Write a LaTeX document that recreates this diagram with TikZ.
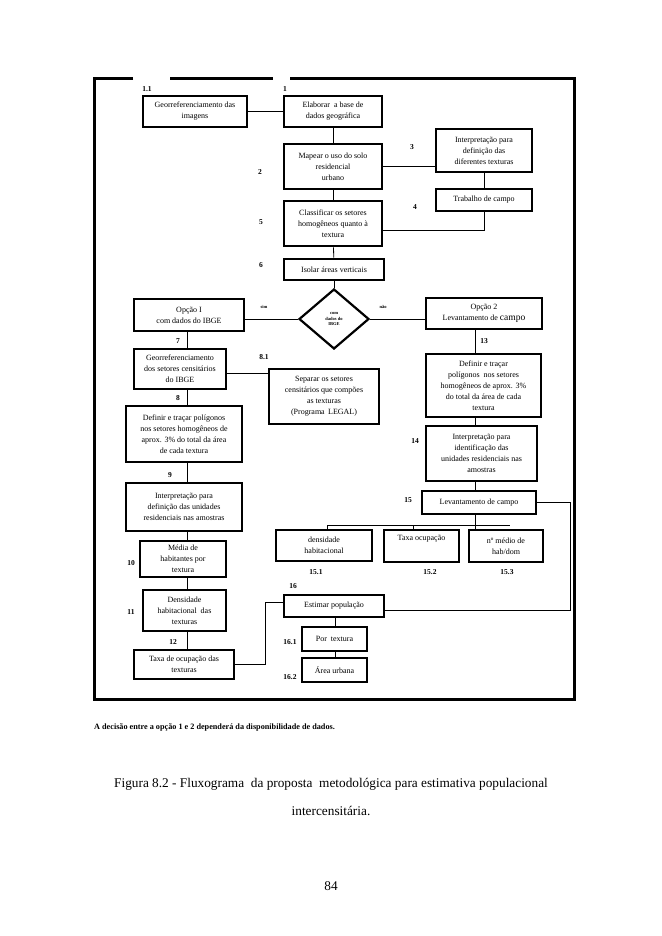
\documentclass[tikz,border=0pt]{standalone}
\usepackage{fontspec}
\setmainfont{Liberation Serif}
\usetikzlibrary{shapes.geometric}
\begin{document}
\begin{tikzpicture}[x=1pt,y=-1pt,
  bx/.style={draw, line width=2.6pt, inner sep=1pt, align=center, font=\fontsize{8}{11}\selectfont},
  lb/.style={font=\fontsize{7.5}{9}\selectfont\bfseries, inner sep=0pt},
  tiny/.style={font=\fontsize{4.5}{5.5}\selectfont\bfseries, inner sep=0pt, align=center},
  cn/.style={line width=0.8pt},
  fr/.style={line width=3pt}]
\useasboundingbox (0,0) rectangle (661,936);
% frame
\draw[fr] (133,79) -- (94,79) -- (94,699) -- (574,699) -- (574,79) -- (290,79);
\draw[fr] (170,79) -- (273,79);
% boxes
\node[bx, minimum width=104, minimum height=31] (b11) at (195,111.5) {Georreferenciamento das\\imagens};
\node[bx, minimum width=98, minimum height=31] (b1) at (333,111.5) {Elaborar \ a base de\\dados geográfica};
\node[bx, minimum width=98, minimum height=45] (b2) at (333,166.5) {Mapear o uso do solo\\residencial\\urbano};
\node[bx, minimum width=96, minimum height=43] (b3) at (484,150.5) {Interpretação para\\definição das\\diferentes texturas};
\node[bx, minimum width=96, minimum height=22] (b4) at (484,200) {Trabalho de campo};
\node[bx, minimum width=98, minimum height=45] (b5) at (333,223.5) {Classificar os setores\\homogêneos quanto à\\textura};
\node[bx, minimum width=100, minimum height=21] (b6) at (334,269.5) {Isolar áreas verticais};
\node[draw, diamond, line width=2.2pt, minimum width=70, minimum height=60, inner sep=0pt, tiny] (d) at (334,319) {com\\dados do\\IBGE};
\node[bx, minimum width=110, minimum height=32] (bo1) at (189,315) {Opção I\\com dados do IBGE};
\node[bx, minimum width=116, minimum height=31] (bo2) at (484,313.5) {Opção 2\\Levantamento de {\fontsize{9.5}{10}\selectfont campo}};
\node[bx, minimum width=92, minimum height=40] (b7) at (180,369) {Georreferenciamento\\dos setores censitários\\do IBGE};
\node[bx, minimum width=110, minimum height=55] (b81) at (324,396.5) {Separar os setores\\censitários que compões\\as texturas\\(Programa \,LEGAL)};
\node[bx, minimum width=116, minimum height=56] (b8) at (184,434) {Definir e traçar polígonos\\nos setores homogêneos de\\aprox. 3\% do total da área\\de cada textura};
\node[bx, minimum width=116, minimum height=48] (b9) at (184,507) {Interpretação para\\definição das unidades\\residenciais nas amostras};
\node[bx, minimum width=86, minimum height=36] (b10) at (183,559) {Média de\\habitantes por\\textura};
\node[bx, minimum width=83, minimum height=41] (b11b) at (184.5,610.5) {Densidade\\habitacional \ das\\texturas};
\node[bx, minimum width=100, minimum height=29] (b12) at (184,664.5) {Taxa de ocupação das\\texturas};
\node[bx, minimum width=115, minimum height=63] (b13) at (483.5,385.5) {Definir e traçar\\polígonos \ nos setores\\homogêneos de aprox. 3\%\\do total da área de cada\\textura};
\node[bx, minimum width=111, minimum height=55] (b14) at (481.5,453.5) {Interpretação para\\identificação das\\unidades residenciais nas\\amostras};
\node[bx, minimum width=114, minimum height=23] (b15) at (479,502.5) {Levantamento de campo};
\node[bx, minimum width=96, minimum height=31] (b151) at (324,545.5) {densidade\\habitacional};
\node[bx, minimum width=75, minimum height=32] (b152) at (421.5,546) {Taxa ocupação\\[6pt]};
\node[bx, minimum width=74, minimum height=32] (b153) at (506,546) {nº médio de\\hab/dom};
\node[bx, minimum width=100, minimum height=22] (b16) at (334,606) {Estimar população};
\node[bx, minimum width=65, minimum height=24] (b161) at (334.5,639) {Por \ textura};
\node[bx, minimum width=65, minimum height=24] (b162) at (334.5,670) {Área urbana};
% helper coordinates
\coordinate (vl) at (187,0);
\coordinate (vr) at (475,0);
\coordinate (c1) at (265,0);
\coordinate (c2) at (570,610);
\coordinate (h1) at (327,525);
\coordinate (h2) at (510,525);
\coordinate (d152) at (413,525);
\coordinate (v16) at (335,0);
% connectors
\draw[cn] (b11) -- (b1);
\draw[cn] (b1) -- (b2);
\draw[cn] (b2.east) -- (b2.east -| b3.west);
\draw[cn] (b3) -- (b4);
\draw[cn] (b4.south) |- ([yshift=-7pt]b5.east);
\draw[cn] (b2) -- (b5);
\draw[cn] (b5) -- (b6);
\draw[cn] (b6) -- (d);
\draw[cn] (d.west) -- (d.west -| bo1.east);
\draw[cn] (d.east) -- (d.east -| bo2.west);
\draw[cn] (vl |- bo1.south) -- (vl |- b7.north);
\draw[cn] (vl |- b7.south) -- (vl |- b8.north);
\draw[cn] ([yshift=-4pt]b7.east) -- ([yshift=-4pt]b7.east -| b81.west);
\draw[cn] (vl |- b8.south) -- (vl |- b9.north);
\draw[cn] (vl |- b9.south) -- (vl |- b10.north);
\draw[cn] (vl |- b10.south) -- (vl |- b11b.north);
\draw[cn] (vl |- b11b.south) -- (vl |- b12.north);
\draw[cn] (b12.east) -- (b12.east -| c1) |- ([yshift=4pt]b16.west);
\draw[cn] (vr |- bo2.south) -- (vr |- b13.north);
\draw[cn] (vr |- b13.south) -- (vr |- b14.north);
\draw[cn] (vr |- b14.south) -- (vr |- b15.north);
\draw[cn] (vr |- b15.south) -- (vr |- b153.north);
\draw[cn] (h1) -- (h2);
\draw[cn] (h1) -- (h1 |- b151.north);
\draw[cn] (d152) -- (d152 |- b152.north);
\draw[cn] (b15.east) -| (c2) -- (c2 -| b16.east);
\draw[cn] (v16 |- b16.south) -- (v16 |- b161.north);
\draw[cn] (v16 |- b161.south) -- (v16 |- b162.north);
% labels
\node[lb] (l11) at (147,89) {1.1};
\node[lb] (l1) at (285,89) {1};
\node[lb] (l2) at (260,172) {2};
\node[lb] (l3) at (412,147) {3};
\node[lb] (l4) at (415,207) {4};
\node[lb] (l5) at (261,222) {5};
\node[lb] (l6) at (261,265) {6};
\node[tiny] (lsim) at (264,307) {sim};
\node[tiny] (lnao) at (383,307) {não};
\node[lb] (l7) at (178,341) {7};
\node[lb] (l81) at (264,357) {8.1};
\node[lb] (l8) at (178,398) {8};
\node[lb] (l9) at (170,475) {9};
\node[lb] (l10) at (131,563) {10};
\node[lb] (l11b) at (131,612) {11};
\node[lb] (l12) at (173,642) {12};
\node[lb] (l13) at (484,341) {13};
\node[lb] (l14) at (415,441) {14};
\node[lb] (l15) at (408,500) {15};
\node[lb] (l151) at (316,572) {15.1};
\node[lb] (l152) at (430,572) {15.2};
\node[lb] (l153) at (507,572) {15.3};
\node[lb] (l16) at (293,586) {16};
\node[lb] (l161) at (290,642) {16.1};
\node[lb] (l162) at (290,677) {16.2};
% notes and caption
\node[anchor=west, inner sep=0pt, font=\fontsize{8.2}{9}\selectfont\bfseries] (note) at (94,728) {A decisão entre a opção 1 e 2 dependerá da disponibilidade de dados.};
\node[inner sep=0pt, font=\fontsize{13.3}{15}\selectfont] (cap1) at (331,784) {Figura 8.2 - Fluxograma \ da proposta \ metodológica para estimativa populacional};
\node[inner sep=0pt, font=\fontsize{13.3}{15}\selectfont] (cap2) at (331,811) {intercensitária.};
\node[inner sep=0pt, font=\fontsize{13.3}{15}\selectfont] (pg) at (331,886) {84};
\end{tikzpicture}
\end{document}
